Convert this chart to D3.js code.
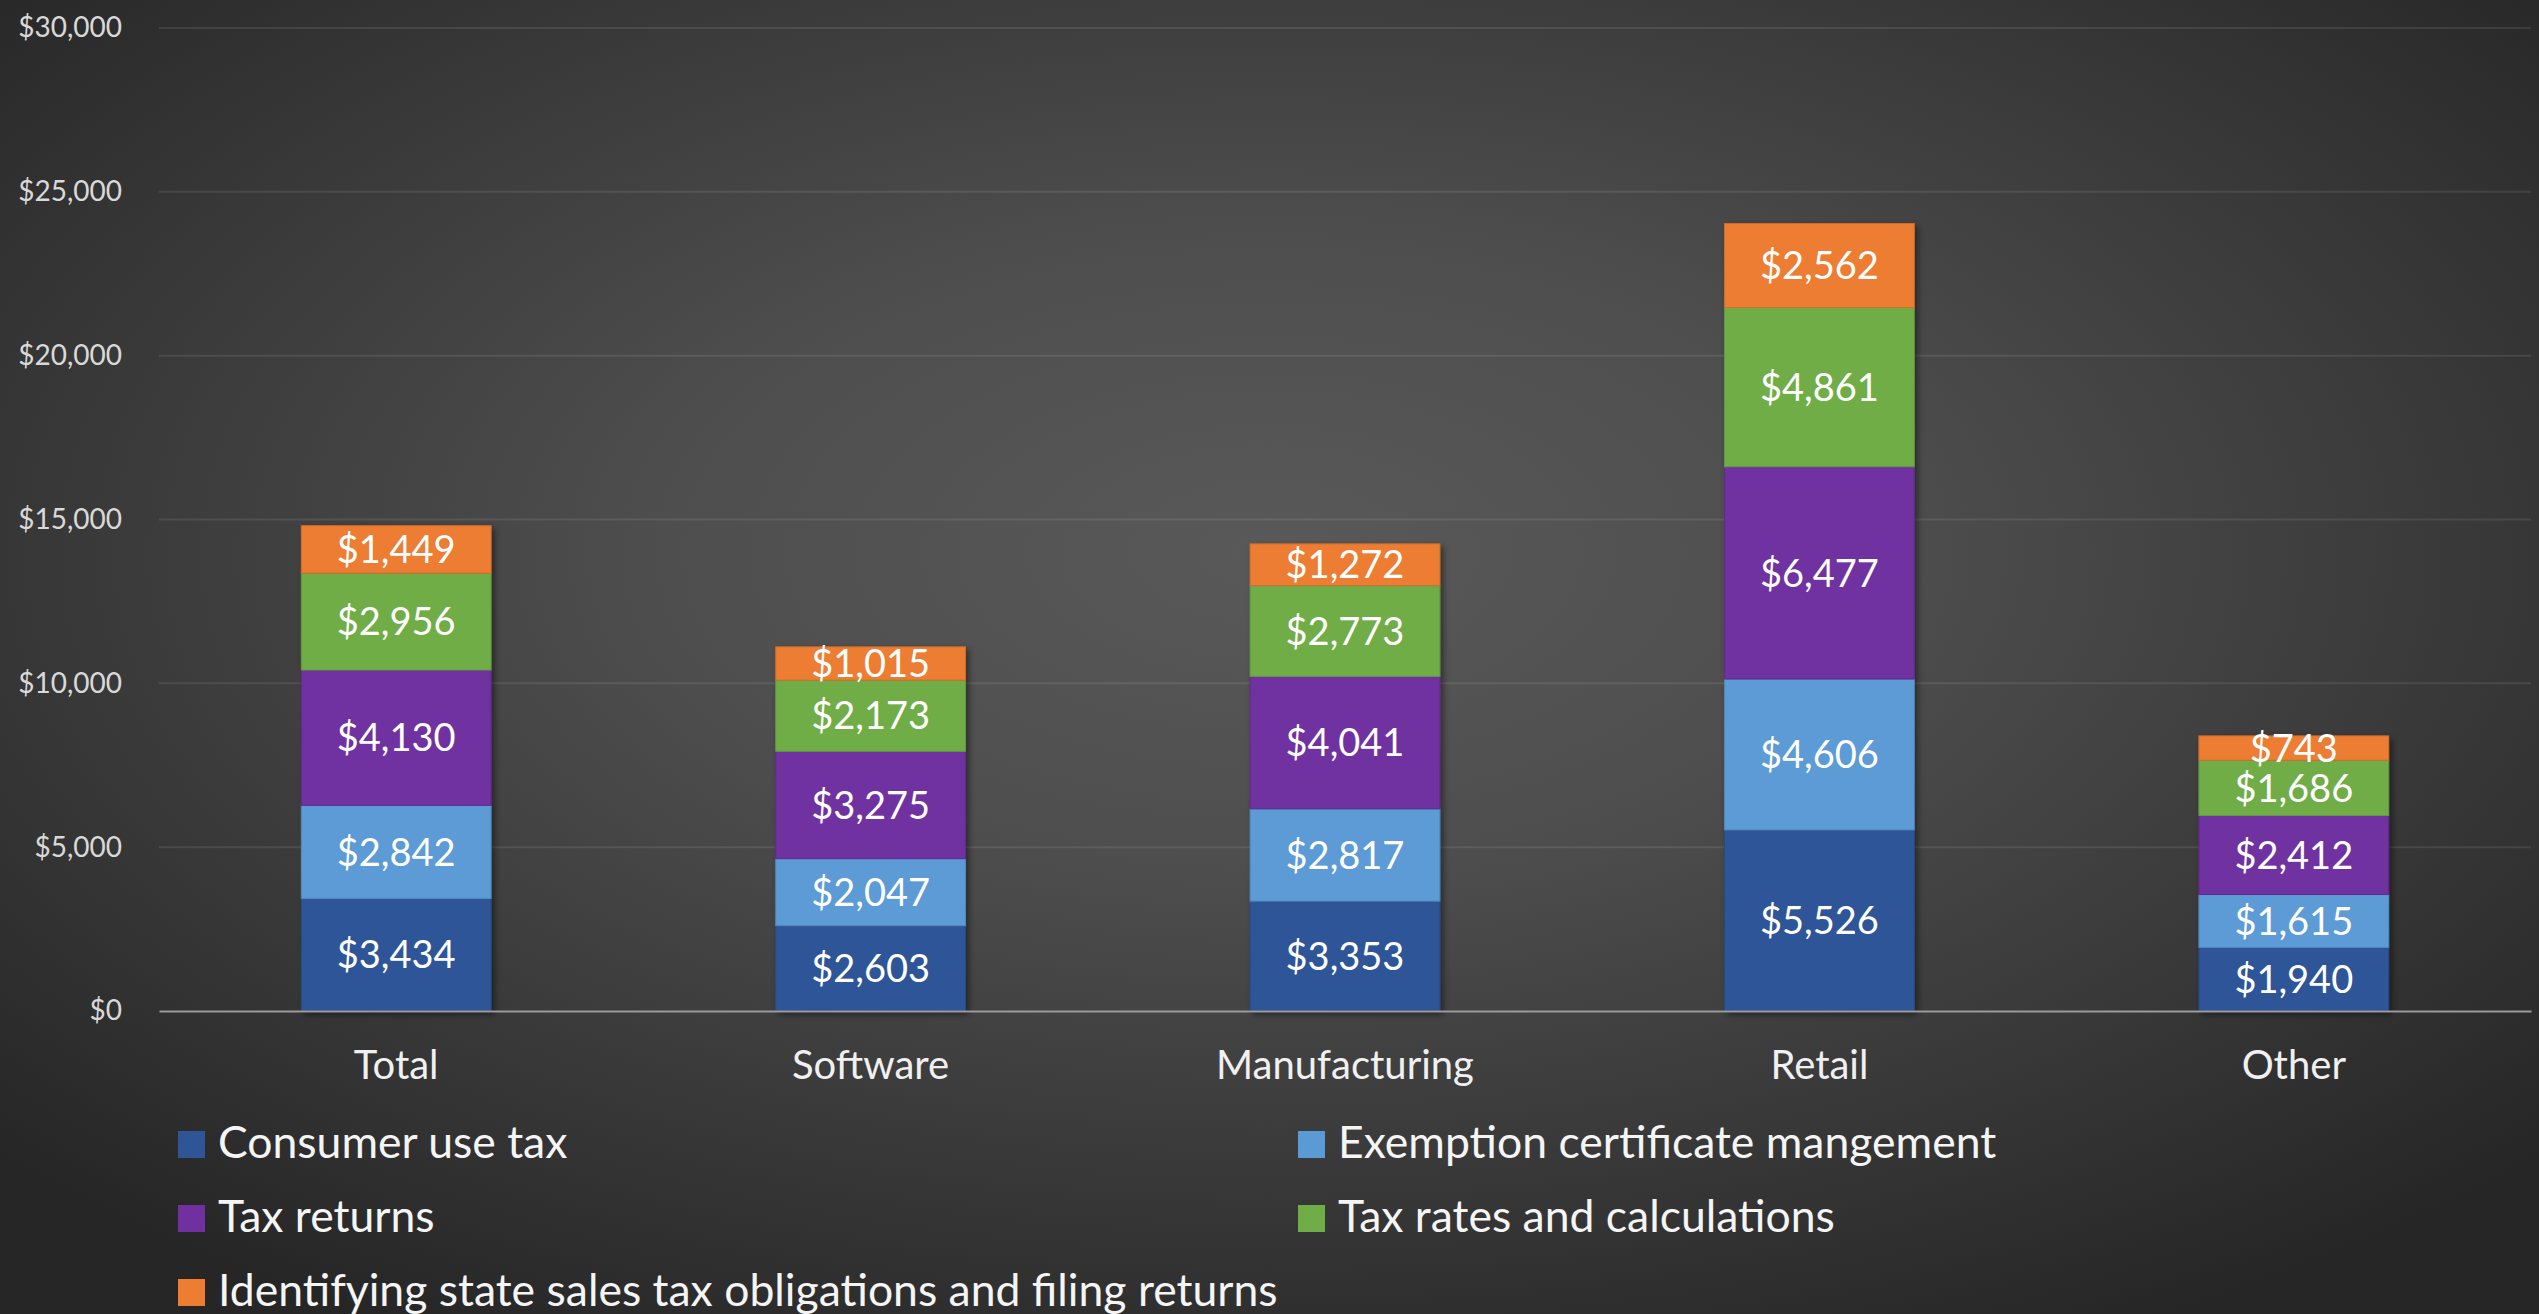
<!DOCTYPE html>
<html>
<head>
<meta charset="utf-8">
<script src="https://cdn.jsdelivr.net/npm/d3@7"></script>
<style>
  html, body { margin: 0; padding: 0; background: #262626; overflow: hidden; }
  svg { display: block; font-family: Lato, "Open Sans", sans-serif; }
</style>
</head>
<body>
<svg id="chart" width="2539" height="1314"></svg>
<script>
// Categories along the x axis.
const categories = ["Total", "Software", "Manufacturing", "Retail", "Other"];
// Series names, bottom to top in each stack.
const seriesNames = [
  "Consumer use tax",
  "Exemption certificate mangement",
  "Tax returns",
  "Tax rates and calculations",
  "Identifying state sales tax obligations and filing returns"
];
// Values per series, in category order.
const consumerUseTax = [3434, 2603, 3353, 5526, 1940];
const exemptionCert = [2842, 2047, 2817, 4606, 1615];
const taxReturns = [4130, 3275, 4041, 6477, 2412];
const taxRates = [2956, 2173, 2773, 4861, 1686];
const identifying = [1449, 1015, 1272, 2562, 743];
// Y axis ticks.
const yTicks = [0, 5000, 10000, 15000, 20000, 25000, 30000];
const seriesColors = ["#2f5597", "#5b9bd5", "#7030a0", "#70ad47", "#ed7d31"];

const svg = d3.select("#chart"),
  W = 2539, H = 1314,
  margin = { top: 28, right: 8, bottom: 303, left: 159 },
  width = W - margin.left - margin.right,
  height = H - margin.top - margin.bottom;

// Background radial gradient (lighter in the middle, dark edges).
const defs = svg.append("defs");
const grad = defs.append("radialGradient").attr("id", "bg")
  .attr("cx", 0.5).attr("cy", 0.42).attr("r", 0.68);
grad.append("stop").attr("offset", 0).attr("stop-color", "#595959");
grad.append("stop").attr("offset", 0.35).attr("stop-color", "#4e4e4e");
grad.append("stop").attr("offset", 1).attr("stop-color", "#262626");
svg.append("rect").attr("width", W).attr("height", H).attr("fill", "url(#bg)");

// Soft shadow behind bars.
const shadow = defs.append("filter").attr("id", "shadow")
  .attr("x", "-10%").attr("y", "-10%").attr("width", "130%").attr("height", "130%");
shadow.append("feDropShadow").attr("dx", 3).attr("dy", 3)
  .attr("stdDeviation", 3).attr("flood-color", "#000").attr("flood-opacity", 0.45);

const g = svg.append("g").attr("transform", `translate(${margin.left},${margin.top})`);

// Build table for the stack.
const valueArrays = [consumerUseTax, exemptionCert, taxReturns, taxRates, identifying];
const table = categories.map((c, i) => {
  const row = { category: c };
  seriesNames.forEach((s, j) => { row[s] = valueArrays[j][i]; });
  return row;
});

const x = d3.scaleBand().domain(categories).range([0, width])
  .paddingInner(0.6).paddingOuter(0.3);
const y = d3.scaleLinear().domain([0, 30000]).range([height, 0]);
const color = d3.scaleOrdinal().domain(seriesNames).range(seriesColors);
const fmt = d3.format("$,");

// Grid lines.
g.append("g").selectAll("line")
  .data(yTicks.filter(t => t > 0))
  .join("line")
  .attr("x1", 0).attr("x2", width)
  .attr("y1", d => y(d)).attr("y2", d => y(d))
  .attr("stroke", "#ffffff").attr("stroke-opacity", 0.09).attr("stroke-width", 2);

// Y axis labels.
const yAxis = g.append("g")
  .call(d3.axisLeft(y).tickValues(yTicks).tickFormat(fmt).tickSize(0).tickPadding(37));
yAxis.select(".domain").remove();
yAxis.selectAll("text")
  .attr("fill", "#d9d9d9")
  .style("font-family", "Lato, sans-serif")
  .style("font-size", "28px");

// Stacked bars.
const series = d3.stack().keys(seriesNames)(table);
g.append("g").attr("filter", "url(#shadow)")
  .selectAll("g")
  .data(series)
  .join("g")
  .attr("fill", d => color(d.key))
  .attr("stroke", d => d3.color(color(d.key)).darker(0.35))
  .attr("stroke-width", 1)
  .selectAll("rect")
  .data(d => d)
  .join("rect")
  .attr("x", d => x(d.data.category))
  .attr("y", d => y(d[1]))
  .attr("width", x.bandwidth())
  .attr("height", d => y(d[0]) - y(d[1]));

// Value labels in each segment.
g.append("g").selectAll("text")
  .data(series.flatMap(s => s.map(d => ({ key: s.key, d }))))
  .join("text")
  .attr("x", o => x(o.d.data.category) + x.bandwidth() / 2)
  .attr("y", o => y((o.d[0] + o.d[1]) / 2))
  .attr("dy", "0.36em")
  .attr("text-anchor", "middle")
  .attr("fill", "#ffffff")
  .style("font-size", "38px")
  .text(o => fmt(o.d.data[o.key]));

// X axis line and labels.
const xAxis = g.append("g").attr("transform", `translate(0,${height})`)
  .call(d3.axisBottom(x).tickSize(0).tickPadding(0));
xAxis.select(".domain").attr("stroke", "#9a9a9a").attr("stroke-width", 2);
xAxis.selectAll("text")
  .attr("y", 68).attr("dy", 0)
  .attr("fill", "#f0f0f0")
  .style("font-family", "Lato, sans-serif")
  .style("font-size", "40px");

// Legend (two columns, three rows).
const legendPos = [
  { x: 178, y: 1158 }, { x: 1298, y: 1158 },
  { x: 178, y: 1232 }, { x: 1298, y: 1232 },
  { x: 178, y: 1306 }
];
const legend = svg.append("g");
seriesNames.forEach((name, i) => {
  const p = legendPos[i];
  const row = legend.append("g").attr("transform", `translate(${p.x},${p.y})`);
  row.append("rect").attr("x", 0).attr("y", -27).attr("width", 27).attr("height", 27)
    .attr("fill", color(name));
  row.append("text").attr("x", 40).attr("y", 0)
    .attr("fill", "#f5f5f5").style("font-size", "44.5px").text(name);
});
</script>
</body>
</html>
